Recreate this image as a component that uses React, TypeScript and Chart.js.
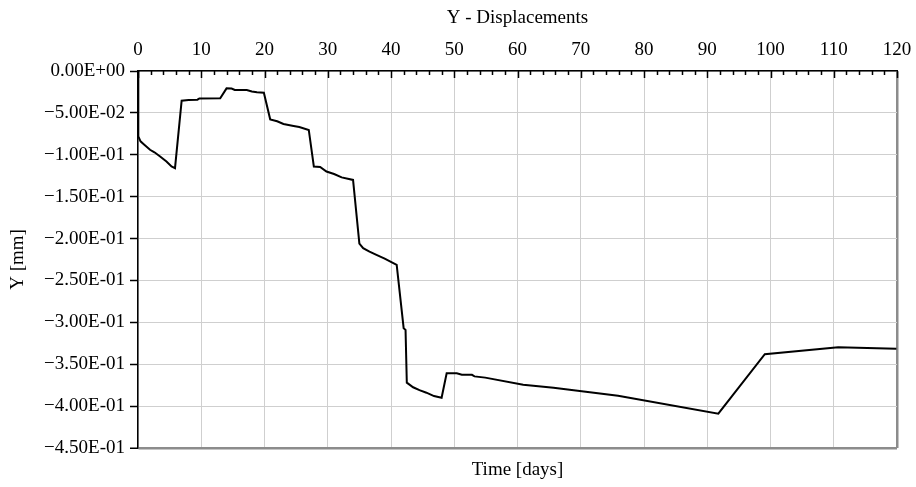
import React, { useEffect, useRef } from 'react';
import { Chart, registerables } from 'chart.js';

Chart.register(...registerables);

const DAYS = [
  0, 0.05, 0.4, 1.0, 1.9, 2.6, 3.5, 4.5, 5.3, 5.85,
  6.9, 8.0, 9.4, 9.7, 13.0, 14.0, 14.8, 15.3, 17.2, 18.0,
  18.8, 19.9, 20.9, 22.0, 23.0, 24.6, 25.5, 27.0, 27.8, 28.8,
  29.8, 31.0, 32.2, 34.0, 35.0, 35.6, 36.6, 37.7, 39.0, 40.9,
  42.0, 42.3, 42.5, 43.5, 44.5, 45.6, 46.8, 48.0, 48.8, 50.4,
  51.2, 52.8, 53.2, 54.9, 60.9, 65.7, 75.9, 91.75, 99.1, 110.7,
  119.9,
];

const Y_DISP = [
  0, -0.078, -0.084, -0.088, -0.094, -0.097, -0.102, -0.108, -0.114, -0.116,
  -0.0354, -0.0345, -0.0342, -0.0328, -0.0326, -0.0207, -0.021, -0.0227, -0.0227, -0.0245,
  -0.0254, -0.0259, -0.0577, -0.06, -0.0632, -0.0656, -0.0668, -0.0704, -0.114, -0.1145,
  -0.12, -0.123, -0.127, -0.13, -0.206, -0.2115, -0.2155, -0.2195, -0.224, -0.2314,
  -0.307, -0.309, -0.372, -0.3775, -0.381, -0.384, -0.388, -0.39, -0.3607, -0.3607,
  -0.3625, -0.3627, -0.3645, -0.366, -0.3746, -0.378, -0.3877, -0.409, -0.338, -0.3296,
  -0.3316,
];

const X_TICKS = [0, 10, 20, 30, 40, 50, 60, 70, 80, 90, 100, 110, 120];
const Y_TICKS = [0, -0.05, -0.1, -0.15, -0.2, -0.25, -0.3, -0.35, -0.4, -0.45];

const TITLE = 'Y - Displacements';
const X_TITLE = 'Time [days]';
const Y_TITLE = 'Y [mm]';

const FONT_FAMILY = "'Liberation Serif', 'Times New Roman', serif";
const FONT = { family: FONT_FAMILY, size: 19 };

function fmtY(v: number): string {
  if (Math.abs(v) < 1e-12) return '0.00E+00';
  const s = Math.abs(v).toExponential(2);
  const [m, e] = s.split('e');
  const ei = parseInt(e, 10);
  return (v < 0 ? '\u2212' : '') + m + 'E' + (ei < 0 ? '-' : '+') + String(Math.abs(ei)).padStart(2, '0');
}

const topTicksPlugin = {
  id: 'topTicks',
  afterDraw(chart: any) {
    const sx = chart.scales.x;
    const top = chart.chartArea.top;
    const ctx = chart.ctx;
    ctx.save();
    ctx.strokeStyle = '#000';
    ctx.lineWidth = 1.5;
    ctx.beginPath();
    for (let v = 0; v <= 120; v += 2) {
      const x = Math.round(sx.getPixelForValue(v)) + 0.5;
      const major = v % 10 === 0;
      ctx.moveTo(x, top);
      ctx.lineTo(x, top + (major ? 7 : 4));
    }
    ctx.stroke();
    ctx.restore();
  },
};

export default function App() {
  const ref = useRef<HTMLCanvasElement | null>(null);

  useEffect(() => {
    document.body.style.margin = '0';
    if (!ref.current) return;
    const points = DAYS.map((d, i) => ({ x: d, y: Y_DISP[i] }));
    const chart = new Chart(ref.current, {
      type: 'scatter',
      data: {
        datasets: [
          {
            data: points,
            showLine: true,
            borderColor: '#000',
            backgroundColor: '#000',
            borderWidth: 2,
            pointRadius: 0,
            tension: 0,
          } as any,
        ],
      },
      options: {
        responsive: false,
        animation: false,
        devicePixelRatio: 1,
        layout: { padding: { left: 0, right: 19, top: 0, bottom: 0 } },
        plugins: {
          legend: { display: false },
          tooltip: { enabled: false },
          title: { display: false },
        },
        scales: {
          x: {
            type: 'linear',
            position: 'top',
            min: 0,
            max: 120,
            afterBuildTicks: (s: any) => {
              s.ticks = X_TICKS.map((v) => ({ value: v }));
            },
            afterFit: (s: any) => {
              s.height = 71;
            },
            ticks: {
              font: FONT,
              color: '#000',
              padding: 3,
              maxRotation: 0,
              autoSkip: false,
            },
            grid: {
              color: (c: any) => (c.tick && c.tick.value === 120 ? '#8c8c8c' : '#cfcfcf'),
              lineWidth: (c: any) => (c.tick && c.tick.value === 120 ? 2.5 : 1),
              drawTicks: true,
              tickLength: 7,
              tickColor: 'rgba(0,0,0,0)',
            },
            border: { color: '#000', width: 1.5 },
            title: {
              display: true,
              text: TITLE,
              font: FONT,
              color: '#000',
              padding: { top: 6.6, bottom: 0 },
            },
          },
          x2: {
            type: 'linear',
            position: 'bottom',
            min: 0,
            max: 120,
            afterFit: (s: any) => {
              s.height = 39;
            },
            ticks: { display: false },
            grid: { display: false, drawTicks: false },
            border: { display: false },
            title: {
              display: true,
              text: X_TITLE,
              font: FONT,
              color: '#000',
              padding: { top: 0, bottom: 5.6 },
            },
          },
          y: {
            type: 'linear',
            position: 'left',
            min: -0.45,
            max: 0,
            afterBuildTicks: (s: any) => {
              s.ticks = Y_TICKS.map((v) => ({ value: v }));
            },
            afterFit: (s: any) => {
              s.width = 138;
            },
            ticks: {
              font: FONT,
              color: '#000',
              padding: 5,
              callback: (v: any) => fmtY(Number(v)),
            },
            grid: {
              color: (c: any) => (c.tick && Math.abs(c.tick.value + 0.45) < 1e-9 ? '#8c8c8c' : '#cfcfcf'),
              lineWidth: (c: any) => (c.tick && Math.abs(c.tick.value + 0.45) < 1e-9 ? 2.5 : 1),
              tickColor: '#000',
              tickLength: 8,
              tickWidth: 1.5,
            },
            border: { color: '#000', width: 1.5 },
            title: {
              display: true,
              text: Y_TITLE,
              font: FONT,
              color: '#000',
              padding: { top: 6.6, bottom: 0 },
            },
          },
        },
      } as any,
      plugins: [topTicksPlugin],
    });
    return () => chart.destroy();
  }, []);

  return (
    <div style={{ position: 'fixed', left: 0, top: 0, width: 916, height: 487, background: '#fff' }}>
      <canvas ref={ref} width={916} height={487} style={{ width: 916, height: 487 }} />
    </div>
  );
}
